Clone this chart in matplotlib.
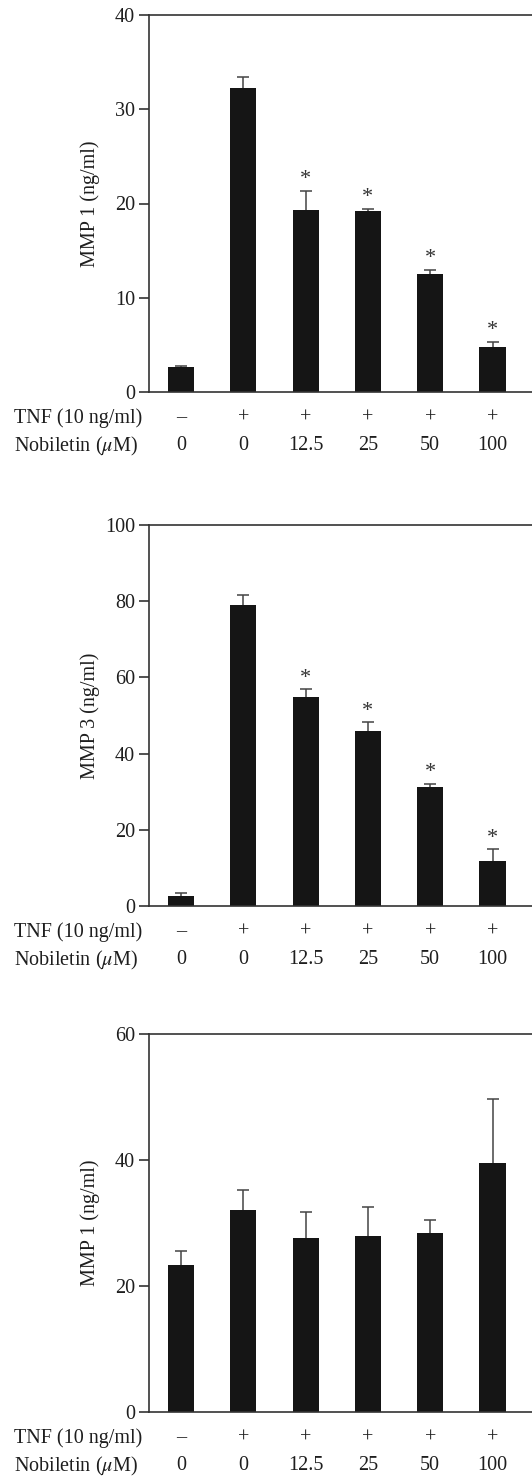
import matplotlib
matplotlib.use("Agg")
import matplotlib.pyplot as plt

plt.rcParams['font.family'] = ['Liberation Serif', 'DejaVu Serif']
plt.rcParams['mathtext.fontset'] = 'stix'

tnf_labels = ['–', '+', '+', '+', '+', '+']
nob_labels = ['0', '0', '12.5', '25', '50', '100']

mmp1_a = [2.65, 32.3, 19.3, 19.2, 12.5, 4.75]
mmp1_a_err = [0.15, 1.1, 2.05, 0.25, 0.45, 0.55]
mmp1_a_sig = [False, False, True, True, True, True]

mmp3 = [2.75, 79.0, 54.8, 45.9, 31.2, 11.9]
mmp3_err = [0.65, 2.6, 2.1, 2.3, 0.8, 3.0]
mmp3_sig = [False, False, True, True, True, True]

mmp1_b = [23.4, 32.1, 27.6, 28.0, 28.4, 39.5]
mmp1_b_err = [2.1, 3.2, 4.1, 4.6, 2.0, 10.2]
mmp1_b_sig = [False] * 6

panels = [
    dict(vals=mmp1_a, err=mmp1_a_err, sig=mmp1_a_sig, ymax=40, ticks=[0, 10, 20, 30, 40],
         ylabel='MMP 1 (ng/ml)', top=15, bottom=392),
    dict(vals=mmp3, err=mmp3_err, sig=mmp3_sig, ymax=100, ticks=[0, 20, 40, 60, 80, 100],
         ylabel='MMP 3 (ng/ml)', top=525, bottom=906),
    dict(vals=mmp1_b, err=mmp1_b_err, sig=mmp1_b_sig, ymax=60, ticks=[0, 20, 40, 60],
         ylabel='MMP 1 (ng/ml)', top=1034, bottom=1412),
]

W, H = 532, 1480
fig = plt.figure(figsize=(W / 100, H / 100), dpi=100)

bar_color = '#151515'
spine_color = '#333333'
text_color = '#1e1e1e'
fs = 14.5

left_px = 149
spacing = 62.3
first_center = 181
x0 = (left_px - first_center) / spacing
right_px = 600
x1 = (right_px - first_center) / spacing
ax_w = right_px - left_px

for p in panels:
    ax = fig.add_axes([left_px / W, 1 - p['bottom'] / H,
                       ax_w / W, (p['bottom'] - p['top']) / H])
    xs = list(range(len(p['vals'])))
    ax.bar(xs, p['vals'], width=0.42, color=bar_color, zorder=2)
    _, caps, _ = ax.errorbar(xs, p['vals'], yerr=[[0] * len(xs), p['err']], fmt='none',
                             ecolor='#444444', elinewidth=1.1, capsize=4, capthick=1.1, zorder=1)
    caps[0].set_visible(False)
    for x, v, e, s in zip(xs, p['vals'], p['err'], p['sig']):
        if s:
            ax.annotate('*', (x, v + e), xytext=(0, 8), textcoords='offset points',
                        ha='center', va='center', fontsize=16, color='#333333')
    ax.set_xlim(x0, x1)
    ax.set_ylim(0, p['ymax'])
    ax.set_yticks(p['ticks'])
    ax.set_xticks([])
    for side in ['top', 'left', 'bottom']:
        ax.spines[side].set_color(spine_color)
        ax.spines[side].set_linewidth(1.2)
    ax.spines['right'].set_visible(False)
    ax.tick_params(axis='y', direction='out', length=7, width=1.2, color=spine_color,
                   labelsize=fs, pad=3, labelcolor=text_color)
    ax.set_ylabel(p['ylabel'], fontsize=fs, color=text_color)
    ax.yaxis.set_label_coords(-49 / ax_w, 0.5)
    y_tnf = 1 - (p['bottom'] + 26) / H
    y_nob = 1 - (p['bottom'] + 54) / H
    fig.text(14 / W, y_tnf, 'TNF (10 ng/ml)', fontsize=fs, va='center', ha='left', color=text_color)
    fig.text(14 / W, y_nob, r'Nobiletin ($\mu$M)', fontsize=fs, va='center', ha='left', color=text_color)
    for i, (t, n) in enumerate(zip(tnf_labels, nob_labels)):
        xf = (first_center + spacing * i) / W
        fig.text(xf, y_tnf, t, fontsize=fs, ha='center', va='center', color=text_color)
        fig.text(xf, y_nob, n, fontsize=fs, ha='center', va='center', color=text_color)

fig.savefig('out.png', dpi=100)
